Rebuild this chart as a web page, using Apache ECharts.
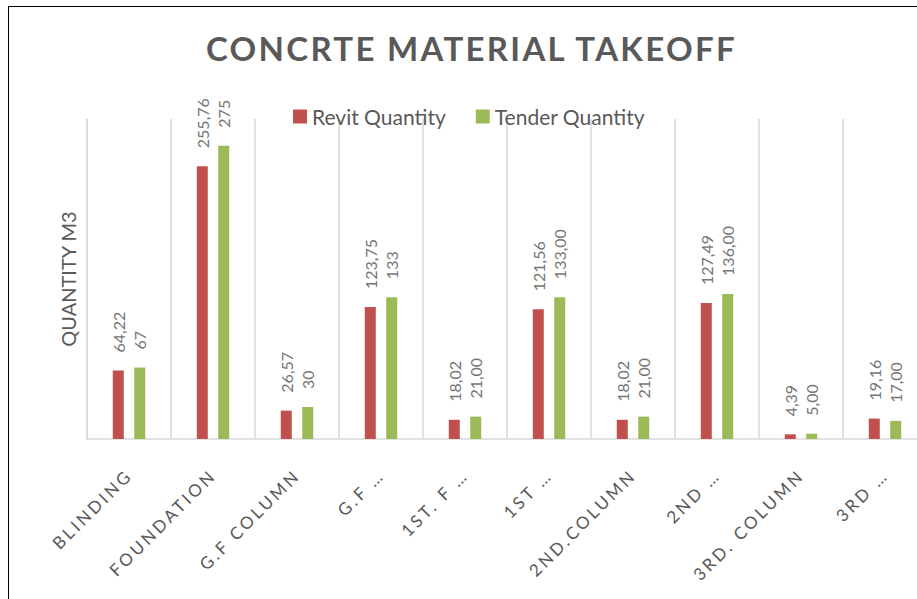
<!DOCTYPE html>
<html>
<head>
<meta charset="utf-8">
<script src="https://cdn.jsdelivr.net/npm/echarts@6/dist/echarts.min.js"></script>
<style>
  html, body { margin: 0; padding: 0; background: #fff; overflow: hidden; }
  #wrap { position: relative; width: 917px; height: 599px; }
  #chart { position: absolute; left: 0; top: 0; width: 917px; height: 599px; }
  #frame { position: absolute; left: 8px; top: 6px; width: 930px; height: 620px;
           border-left: 1.5px solid #000; border-top: 1.5px solid #000; pointer-events: none; }
  #chart text[style*="17px"] { letter-spacing: 3px; }
  #chart text[style*="33px"] { letter-spacing: 2.3px; }
</style>
</head>
<body>
<div id="wrap">
  <div id="chart"></div>
  <div id="frame"></div>
</div>
<script>
const categories = ["BLINDING", "FOUNDATION", "G.F COLUMN", "G.F …", "1ST. F …", "1ST …", "2ND.COLUMN", "2ND …", "3RD. COLUMN", "3RD …"];
const revitValues = [64.22, 255.76, 26.57, 123.75, 18.02, 121.56, 18.02, 127.49, 4.39, 19.16];
const tenderValues = [67, 275, 30, 133, 21.00, 133.00, 21.00, 136.00, 5.00, 17.00];
const revitLabels = ["64,22", "255,76", "26,57", "123,75", "18,02", "121,56", "18,02", "127,49", "4,39", "19,16"];
const tenderLabels = ["67", "275", "30", "133", "21,00", "133,00", "21,00", "136,00", "5,00", "17,00"];
const seriesNames = ["Revit Quantity", "Tender Quantity"];

const FONT = "Lato";
const GREY = "#595959";
const LABEL_GREY = "#767676";

const chart = echarts.init(document.getElementById('chart'), null, { renderer: 'svg' });

function labelCfg(arr) {
  return {
    show: true,
    position: 'top',
    rotate: 90,
    align: 'left',
    verticalAlign: 'middle',
    distance: 18,
    color: LABEL_GREY,
    fontFamily: FONT,
    fontSize: 16,
    formatter: p => arr[p.dataIndex]
  };
}

chart.setOption({
  animation: false,
  title: {
    text: "CONCRTE MATERIAL TAKEOFF",
    left: 201,
    top: 26,
    textStyle: { fontFamily: FONT, fontSize: 33, fontWeight: 'bold', color: GREY }
  },
  legend: {
    data: seriesNames,
    top: 101,
    left: 288,
    icon: 'rect',
    itemWidth: 14,
    itemHeight: 14,
    itemGap: 30,
    itemTextGap: 5,
    textStyle: { fontFamily: FONT, fontSize: 21, color: GREY }
  },
  grid: {
    left: 87,
    right: -10,
    top: 119,
    bottom: 160,
    outerBoundsMode: 'none',
    containLabel: false
  },
  xAxis: {
    type: 'category',
    data: categories,
    axisTick: { show: false },
    axisLine: { lineStyle: { color: '#d9d9d9', width: 1.5 } },
    splitLine: { show: true, lineStyle: { color: '#d9d9d9', width: 1.5 } },
    axisLabel: {
      interval: 0,
      rotate: 45,
      margin: 33,
      color: GREY,
      fontFamily: FONT,
      fontSize: 17
    }
  },
  yAxis: {
    type: 'value',
    min: 0,
    max: 300,
    name: "QUANTITY M3",
    nameLocation: 'middle',
    nameGap: 9,
    nameRotate: 90,
    nameTextStyle: { fontFamily: FONT, fontSize: 20, color: GREY },
    axisLine: { show: true, lineStyle: { color: '#d9d9d9', width: 1.5 } },
    axisTick: { show: false },
    axisLabel: { show: false },
    splitLine: { show: false }
  },
  series: [
    {
      name: seriesNames[0],
      type: 'bar',
      data: revitValues,
      barWidth: 11,
      barGap: '95%',
      itemStyle: { color: '#c0504d' },
      label: labelCfg(revitLabels)
    },
    {
      name: seriesNames[1],
      type: 'bar',
      data: tenderValues,
      barWidth: 11,
      itemStyle: { color: '#9bbb59' },
      label: labelCfg(tenderLabels)
    }
  ]
});
</script>
</body>
</html>
